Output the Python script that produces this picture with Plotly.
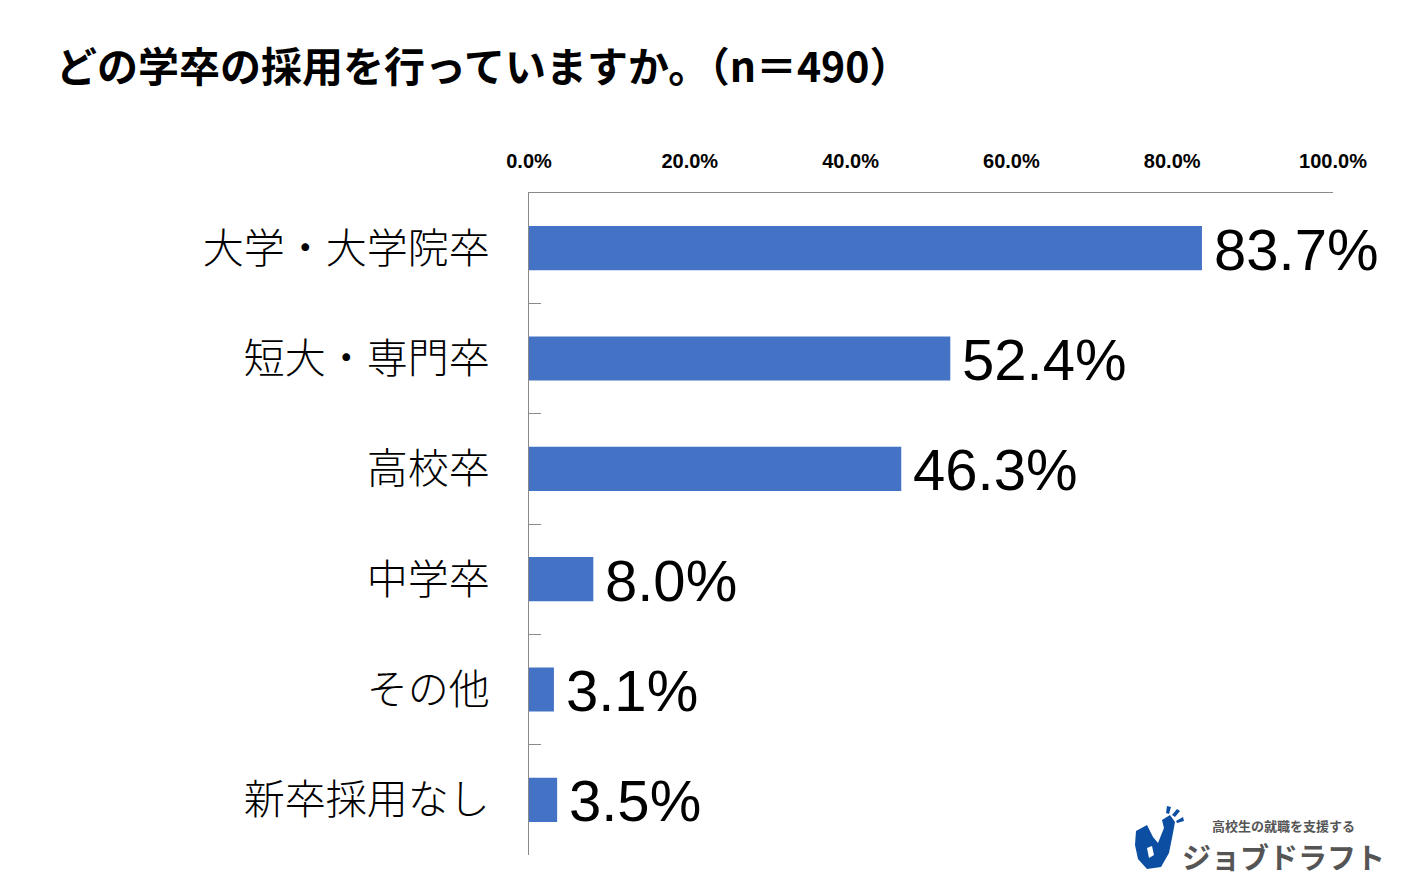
import plotly.graph_objects as go

categories = ["大学・大学院卒", "短大・専門卒", "高校卒", "中学卒", "その他", "新卒採用なし"]
values = [83.7, 52.4, 46.3, 8.0, 3.1, 3.5]
x_ticks = [0, 20, 40, 60, 80, 100]
x_tick_labels = ["0.0%", "20.0%", "40.0%", "60.0%", "80.0%", "100.0%"]
title_text = "どの学卒の採用を行っていますか。（n＝490）"

OFF = 8  # page body margin
W, H = 1415 - OFF, 885 - OFF
# target plot area in window pixels: x 529..1333, y 193..855
L = 529 - OFF
T = 193 - OFF
R = W - (1333 - OFF)
B = H - (855 - OFF)
PW, PH = W - L - R, H - T - B


def px(xp, yp):
    """window pixel -> paper coords"""
    return (xp - OFF - L) / PW, (H - B - (yp - OFF)) / PH


BLUE = "#4472C4"
AXIS = "#898989"
JP = "Noto Sans CJK JP"

fig = go.Figure()
fig.add_trace(go.Bar(
    y=categories, x=values, orientation="h",
    marker=dict(color=BLUE, line=dict(width=0)),
    hoverinfo="skip",
))

for c, v in zip(categories, values):
    fig.add_annotation(
        x=v, y=c, xref="x", yref="y", text=f"{v:.1f}%",
        showarrow=False, xanchor="left", yanchor="middle", xshift=10, yshift=-1,
        font=dict(family="Liberation Sans, Arial", size=58, color="#000000"),
    )

fig.update_layout(
    width=W, height=H,
    margin=dict(l=L, r=R, t=T, b=B, pad=0),
    paper_bgcolor="white", plot_bgcolor="white",
    bargap=0.6, showlegend=False,
    title=dict(
        text=f"<b>{title_text}</b>", xref="container", yref="container",
        x=(56 - OFF) / W, xanchor="left", y=1 - (68 - OFF) / H, yanchor="middle",
        font=dict(family=JP, size=41, color="#000000"),
    ),
    xaxis=dict(
        side="top", range=[0, 100], tickvals=x_ticks, ticktext=x_tick_labels,
        showgrid=False, zeroline=False, showline=True,
        linecolor=AXIS, linewidth=1, ticks="",
        ticklabelstandoff=16,
        tickfont=dict(family="Liberation Sans, Arial", size=20, color="#000000", weight="bold"),
    ),
    yaxis=dict(
        type="category", categoryorder="array", categoryarray=categories,
        autorange="reversed", showgrid=False, zeroline=False,
        showline=True, linecolor=AXIS, linewidth=1,
        ticks="inside", tickson="boundaries", ticklen=12, tickcolor=AXIS, tickwidth=1,
        ticklabelstandoff=30,
        tickfont=dict(family=JP, size=41, color="#000000", weight=300),
    ),
)

# logo (decoration)
def path_from(points):
    pts = [px(a, b) for a, b in points]
    return "M " + " L ".join(f"{x:.5f},{y:.5f}" for x, y in pts) + " Z"

body = [(1136, 831), (1147, 825), (1153, 837), (1158, 843), (1164, 828), (1162, 820),
        (1170, 815), (1175, 822), (1173, 833), (1169, 853), (1161, 867), (1147, 869),
        (1138, 859), (1135, 845)]
fig.add_shape(type="path", path=path_from(body), xref="paper", yref="paper",
              fillcolor="#0B4EA2", line=dict(width=0), layer="above")
hole = [(1147, 848), (1152, 846), (1154, 855), (1149, 858)]
fig.add_shape(type="path", path=path_from(hole), xref="paper", yref="paper",
              fillcolor="white", line=dict(width=0), layer="above")
for seg in [[(1166, 813), (1167, 806), (1171, 807), (1169, 814)],
            [(1172, 815), (1177, 809), (1180, 811), (1175, 817)],
            [(1176, 821), (1183, 817), (1184, 821), (1177, 823)]]:
    fig.add_shape(type="path", path=path_from(seg), xref="paper", yref="paper",
                  fillcolor="#0B4EA2", line=dict(width=0), layer="above")

x0, y0 = px(1283, 825)
fig.add_annotation(x=x0, y=y0, xref="paper", yref="paper", text="高校生の就職を支援する",
                   showarrow=False, xanchor="center", yanchor="middle",
                   font=dict(family=JP, size=13, color="#555555", weight="bold"))
x1, y1 = px(1283, 856)
fig.add_annotation(x=x1, y=y1, xref="paper", yref="paper", text="<b>ジョブドラフト</b>",
                   showarrow=False, xanchor="center", yanchor="middle",
                   font=dict(family=JP, size=29, color="#555555"))

fig.write_html("out.html")
